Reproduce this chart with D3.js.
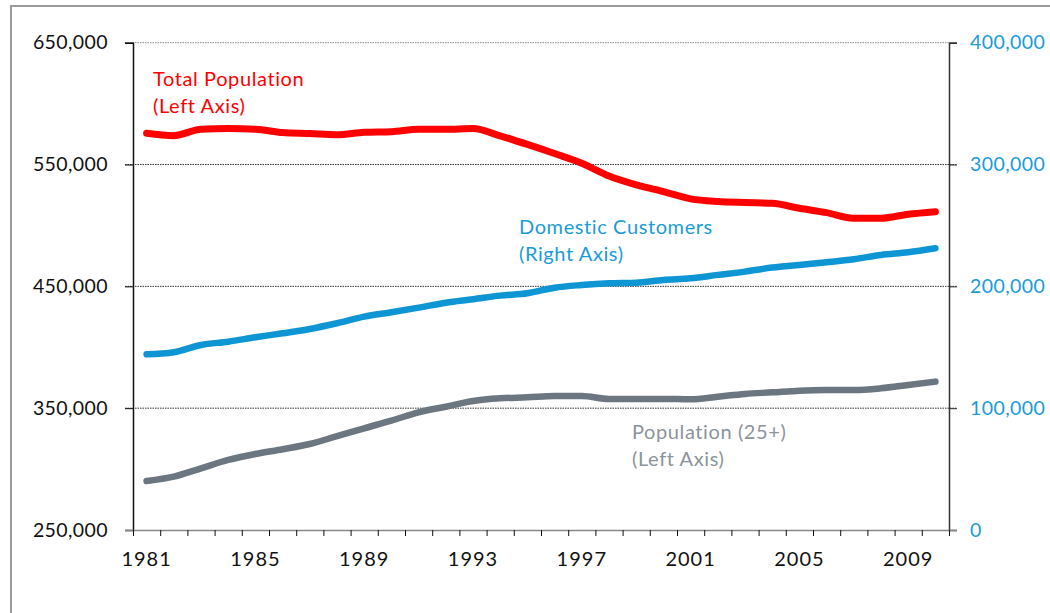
<!DOCTYPE html>
<html>
<head>
<meta charset="utf-8">
<script src="https://cdn.jsdelivr.net/npm/d3@7"></script>
<style>
  body { margin: 0; background: #fff; }
  svg text { font-family: Lato, "Open Sans", sans-serif; }
</style>
</head>
<body>
<svg id="chart" width="1050" height="613"></svg>
<script>
// years on the category axis
const years = [1981,1982,1983,1984,1985,1986,1987,1988,1989,1990,
               1991,1992,1993,1994,1995,1996,1997,1998,1999,2000,
               2001,2002,2003,2004,2005,2006,2007,2008,2009,2010];
const yearLabels = [1981,1985,1989,1993,1997,2001,2005,2009];

// left axis series
const totalPopulation = [575700,573700,579000,579500,579000,576200,575400,574500,576500,577000,
                         579000,579000,579500,573500,566500,559000,551000,540500,533300,527800,
                         521800,519600,518800,518200,514100,510500,505900,505900,509200,511300];
const population25 = [290200,293800,300600,307500,312400,316300,320600,327000,333500,339800,
                      346600,351200,355900,358100,358900,360000,360000,357600,357600,357600,
                      357300,359400,361700,363000,364400,364900,364900,366300,369000,371800];
// right axis series
const domesticCustomers = [144200,145900,151900,154600,158200,161500,165000,169700,175100,178700,
                           182500,186600,189400,192400,194300,198900,201100,202500,203000,205300,
                           206600,209400,212100,215400,217600,219800,222300,225800,228000,231300];

const leftTicks = [250000,350000,450000,550000,650000];
const rightTicks = [0,100000,200000,300000,400000];

const LEFT = 133, RIGHT = 949, TOP = 42.7, BOTTOM = 530;

const svg = d3.select("#chart");

// outer frame of the pasted picture
svg.append("path")
  .attr("d", "M11,613 L11,6 L1050,6")
  .attr("fill", "none")
  .attr("stroke", "#9a9a9a")
  .attr("stroke-width", 2);

const x = d3.scaleBand().domain(years).range([LEFT, RIGHT]).padding(0);
const xEdge = d3.scaleLinear().domain([years[0], years[years.length-1] + 1]).range([LEFT, RIGHT]);
const yLeft = d3.scaleLinear().domain([250000, 650000]).range([BOTTOM, TOP]);
const yRight = d3.scaleLinear().domain([0, 400000]).range([BOTTOM, TOP]);
const fmt = d3.format(",");

// gridlines
svg.append("g")
  .selectAll("line")
  .data(leftTicks.slice(1))
  .enter()
  .append("line")
  .attr("x1", LEFT - 8).attr("x2", RIGHT + 8)
  .attr("y1", d => yLeft(d)).attr("y2", d => yLeft(d))
  .attr("stroke", d => d === 650000 ? "#8a8a8a" : "#333")
  .attr("stroke-width", 1)
  .attr("stroke-dasharray", "1.5,1");

// left axis
const gLeft = svg.append("g")
  .attr("transform", `translate(${LEFT},0)`)
  .call(d3.axisLeft(yLeft).tickValues(leftTicks).tickFormat(fmt).tickSize(8).tickPadding(17));
gLeft.select(".domain").attr("stroke", "#111").attr("stroke-width", 1.5);
gLeft.selectAll(".tick line").attr("stroke", "#111");
gLeft.selectAll("text").attr("font-size", 19.5).attr("letter-spacing", 0.4)
  .attr("fill", "#111").attr("font-family", "Lato, sans-serif");

// right axis
const gRight = svg.append("g")
  .attr("transform", `translate(${RIGHT},0)`)
  .call(d3.axisRight(yRight).tickValues(rightTicks).tickFormat(fmt).tickSize(8).tickPadding(13));
gRight.select(".domain").attr("stroke", "#333").attr("stroke-width", 1.5);
gRight.selectAll(".tick line").attr("stroke", "#333");
gRight.selectAll("text").attr("font-size", 19.5).attr("letter-spacing", 0.4)
  .attr("fill", "#1a9cd8").attr("font-family", "Lato, sans-serif");

// bottom axis: ticks on band edges, labels at band centres
const gBottom = svg.append("g")
  .attr("transform", `translate(0,${BOTTOM})`)
  .call(d3.axisBottom(xEdge).tickValues(d3.range(years[0], years[years.length-1] + 2)).tickFormat("").tickSize(6).tickSizeOuter(0));
gBottom.select(".domain").attr("stroke", "#888").attr("stroke-width", 1.5)
  .attr("d", `M${LEFT - 8},0.5H${RIGHT + 8}`);
gBottom.selectAll(".tick line").attr("stroke", "#111");

const gLabels = svg.append("g")
  .attr("transform", `translate(0,${BOTTOM})`)
  .call(d3.axisBottom(x).tickValues(yearLabels).tickSize(0).tickPadding(22));
gLabels.select(".domain").remove();
gLabels.selectAll("text").attr("font-size", 20).attr("letter-spacing", 1)
  .attr("fill", "#111").attr("font-family", "Lato, sans-serif");

// lines
const lineLeft = d3.line()
  .x((d, i) => x(years[i]) + x.bandwidth() / 2)
  .y(d => yLeft(d))
  .curve(d3.curveMonotoneX);
const lineRight = d3.line()
  .x((d, i) => x(years[i]) + x.bandwidth() / 2)
  .y(d => yRight(d))
  .curve(d3.curveMonotoneX);

const series = [
  { values: population25, line: lineLeft, color: "#6b7680", width: 6.5 },
  { values: domesticCustomers, line: lineRight, color: "#0e95d3", width: 6.5 },
  { values: totalPopulation, line: lineLeft, color: "#ff0000", width: 7 }
];

svg.append("g")
  .selectAll("path")
  .data(series)
  .enter()
  .append("path")
  .attr("d", d => d.line(d.values))
  .attr("fill", "none")
  .attr("stroke", d => d.color)
  .attr("stroke-width", d => d.width)
  .attr("stroke-linecap", "round")
  .attr("stroke-linejoin", "round");

// annotations
const notes = [
  { lines: ["Total Population", "(Left Axis)"], x: 153, y: 86, color: "#ff0000" },
  { lines: ["Domestic Customers", "(Right Axis)"], x: 519, y: 234, color: "#1a9cd8" },
  { lines: ["Population (25+)", "(Left Axis)"], x: 632, y: 439, color: "#8b949b" }
];

notes.forEach(n => {
  const t = svg.append("text")
    .attr("x", n.x).attr("y", n.y)
    .attr("fill", n.color)
    .attr("font-size", 20)
    .attr("letter-spacing", 0.6);
  n.lines.forEach((l, i) => {
    t.append("tspan").attr("x", n.x).attr("dy", i === 0 ? 0 : 27).text(l);
  });
});
</script>
</body>
</html>
